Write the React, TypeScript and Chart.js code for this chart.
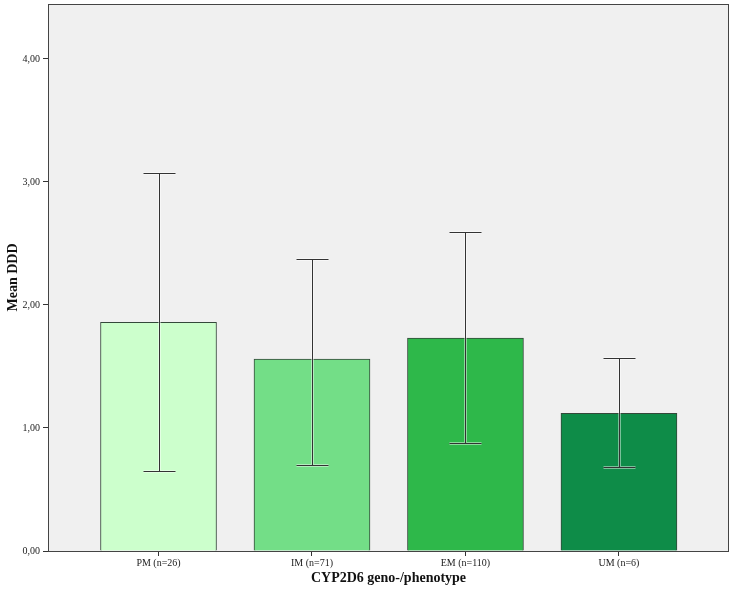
import { useRef, useEffect } from 'react';
import { Chart, registerables } from 'chart.js';

Chart.register(...registerables);

const categories = ['PM (n=26)', 'IM (n=71)', 'EM (n=110)', 'UM (n=6)'];
const meanDDD = [1.86, 1.56, 1.73, 1.12];
const upperCI = [3.07, 2.37, 2.59, 1.57];
const lowerCI = [0.65, 0.70, 0.88, 0.68];
const barColors = ['#ccffcc', '#73de87', '#2eb84a', '#0e8c48'];
const yTicks = [0, 1, 2, 3, 4];

const FONT = "'Liberation Serif', 'Times New Roman', serif";

// grey plot background + frame
const plotFrame = {
  id: 'plotFrame',
  beforeDatasetsDraw(chart: any) {
    const { ctx, chartArea: a } = chart;
    ctx.save();
    ctx.fillStyle = '#f0f0f0';
    ctx.fillRect(a.left, a.top, a.right - a.left, a.bottom - a.top);
    ctx.restore();
  },
  afterDraw(chart: any) {
    const { ctx, chartArea: a } = chart;
    ctx.save();
    ctx.strokeStyle = '#444';
    ctx.lineWidth = 1;
    ctx.strokeRect(a.left + 0.5, a.top + 0.5, a.right - a.left - 1, a.bottom - a.top);
    ctx.restore();
  },
};

// 95% CI whiskers
const errorBars = {
  id: 'errorBars',
  afterDatasetsDraw(chart: any) {
    const { ctx, scales } = chart;
    const x = scales.x;
    const y = scales.y;
    const cap = 16;
    ctx.save();
    categories.forEach((_, i) => {
      const cx = Math.round(x.getPixelForValue(i)) + 0.5;
      const yt = Math.round(y.getPixelForValue(upperCI[i])) + 0.5;
      const yb = Math.round(y.getPixelForValue(lowerCI[i])) + 0.5;
      const path = () => {
        ctx.beginPath();
        ctx.moveTo(cx, yt);
        ctx.lineTo(cx, yb);
        ctx.moveTo(cx - cap, yt);
        ctx.lineTo(cx + cap, yt);
        ctx.moveTo(cx - cap, yb);
        ctx.lineTo(cx + cap, yb);
      };
      ctx.strokeStyle = 'rgba(255,255,255,0.45)';
      ctx.lineWidth = 3;
      path();
      ctx.stroke();
      ctx.strokeStyle = '#333';
      ctx.lineWidth = 1;
      path();
      ctx.stroke();
    });
    ctx.restore();
  },
};

const App = () => {
  const canvasRef = useRef<HTMLCanvasElement | null>(null);

  useEffect(() => {
    document.body.style.margin = '0';
    if (!canvasRef.current) return;
    const chart = new Chart(canvasRef.current, {
      type: 'bar',
      data: {
        datasets: [
          {
            data: meanDDD.map((v, i) => ({ x: i, y: v })),
            backgroundColor: barColors,
            borderColor: '#34483a',
            borderWidth: 1,
            barThickness: 116,
          },
        ],
      },
      options: {
        animation: false,
        responsive: false,
        maintainAspectRatio: false,
        layout: { padding: { top: 4, right: 9, left: 0, bottom: 0 } },
        plugins: {
          legend: { display: false },
          tooltip: { enabled: false },
        },
        scales: {
          x: {
            type: 'linear',
            offset: false,
            min: -0.72,
            max: 3.717,
            afterBuildTicks: (axis: any) => {
              axis.ticks = categories.map((_, i) => ({ value: i }));
            },
            afterFit: (axis: any) => {
              axis.height = 40;
              axis.paddingLeft = 0;
              axis.paddingRight = 0;
            },
            ticks: {
              callback: (v: any) => categories[v] ?? '',
              font: { family: FONT, size: 10 },
              color: '#222',
              padding: 1,
              maxRotation: 0,
              autoSkip: false,
            },
            grid: {
              offset: false,
              drawOnChartArea: false,
              drawTicks: true,
              tickLength: 5,
              color: '#333',
            },
            border: { display: false },
            title: {
              display: true,
              text: 'CYP2D6 geno-/phenotype',
              font: { family: FONT, size: 14, weight: 'bold' },
              color: '#111',
              padding: { top: 0, bottom: 4 },
            },
          },
          y: {
            min: 0,
            max: 4.447,
            afterBuildTicks: (axis: any) => {
              axis.ticks = yTicks.map((v) => ({ value: v }));
            },
            afterFit: (axis: any) => {
              axis.width = 48;
              axis.paddingTop = 0;
              axis.paddingBottom = 0;
            },
            ticks: {
              callback: (v: any) => Number(v).toFixed(2).replace('.', ','),
              font: { family: FONT, size: 10 },
              color: '#222',
              padding: 3,
            },
            grid: {
              drawOnChartArea: false,
              drawTicks: true,
              tickLength: 5,
              color: '#333',
            },
            border: { display: false },
            title: {
              display: true,
              text: 'Mean DDD',
              font: { family: FONT, size: 14, weight: 'bold' },
              color: '#111',
              padding: { top: 5, bottom: 0 },
            },
          },
        },
      },
      plugins: [plotFrame, errorBars],
    });
    return () => {
      chart.destroy();
    };
  }, []);

  return (
    <div style={{ width: 738, height: 591, background: '#fff' }}>
      <canvas ref={canvasRef} width={738} height={591} style={{ width: 738, height: 591, display: 'block' }} />
    </div>
  );
};

export default App;
